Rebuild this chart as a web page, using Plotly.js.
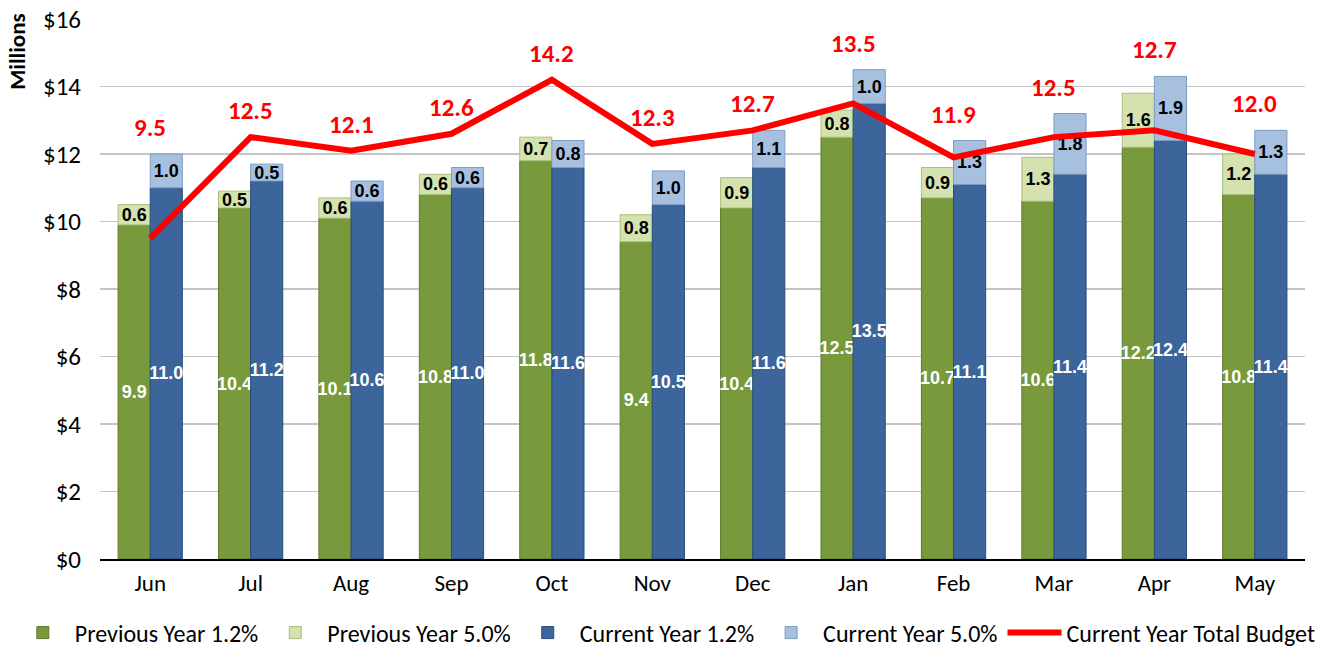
<!DOCTYPE html>
<html>
<head>
<meta charset="utf-8">
<script src="https://cdn.plot.ly/plotly-3.0.1.min.js"></script>
<style>html,body{margin:0;padding:0;background:#fff;}#chart{width:1343px;height:649px;}</style>
</head>
<body>
<div id="chart"></div>
<script>
const months = ["Jun","Jul","Aug","Sep","Oct","Nov","Dec","Jan","Feb","Mar","Apr","May"];
const prevBase = [9.9,10.4,10.1,10.8,11.8,9.4,10.4,12.5,10.7,10.6,12.2,10.8];
const prevExtra = [0.6,0.5,0.6,0.6,0.7,0.8,0.9,0.8,0.9,1.3,1.6,1.2];
const currBase = [11.0,11.2,10.6,11.0,11.6,10.5,11.6,13.5,11.1,11.4,12.4,11.4];
const currExtra = [1.0,0.5,0.6,0.6,0.8,1.0,1.1,1.0,1.3,1.8,1.9,1.3];
const budget = [9.5,12.5,12.1,12.6,14.2,12.3,12.7,13.5,11.9,12.5,12.7,12.0];

const FONT = 'Carlito, Calibri, "Liberation Sans", Arial, sans-serif';
const NARROW = '"Liberation Sans Narrow", "Arial Narrow", "Liberation Sans", Arial, sans-serif';

function barTrace(name, y, base, group, color, lineColor, textColor) {
  const t = {
    type: 'bar', name: name, x: months, y: y, offsetgroup: group,
    marker: {color: color, line: {color: lineColor, width: 1}},
    text: y.map(v => v.toFixed(1)), textposition: 'inside', insidetextanchor: 'middle',
    textangle: 0, constraintext: 'none',
    textfont: {family: NARROW, size: 18, color: textColor, weight: 'bold'},
    hoverinfo: 'y+name'
  };
  if (base) t.base = base;
  return t;
}

const traces = [
  barTrace('Previous Year 1.2%', prevBase, null, 'prev', '#789A3C', '#5E7A2C', '#ffffff'),
  barTrace('Previous Year 5.0%', prevExtra, prevBase, 'prev', '#D3E2AF', '#A9BF7A', '#000000'),
  barTrace('Current Year 1.2%', currBase, null, 'curr', '#3B659B', '#2A4D7A', '#ffffff'),
  barTrace('Current Year 5.0%', currExtra, currBase, 'curr', '#A7C0E0', '#7D9CC4', '#000000'),
  {
    type: 'scatter', mode: 'lines', name: 'Current Year Total Budget', x: months, y: budget,
    line: {color: '#FF0000', width: 6}
  }
];

const annotations = months.map((m, i) => ({
  x: m, y: Math.max(budget[i], prevBase[i] + prevExtra[i], currBase[i] + currExtra[i]),
  xref: 'x', yref: 'y', text: budget[i].toFixed(1), showarrow: false,
  yanchor: 'bottom', yshift: 9,
  font: {family: FONT, size: 25, color: '#FF0000', weight: 'bold'}
}));
annotations.push({
  xref: 'paper', yref: 'paper', x: -0.0685, y: 1.015, xanchor: 'center', yanchor: 'top',
  text: 'Millions', textangle: -90, showarrow: false,
  font: {family: FONT, size: 23, color: '#000', weight: 'bold'}
});

const layout = {
  width: 1343, height: 649,
  margin: {l: 100, r: 38, t: 19, b: 90, autoexpand: false},
  paper_bgcolor: '#fff', plot_bgcolor: '#fff',
  barmode: 'group', bargap: 0.36, bargroupgap: 0,
  font: {family: FONT, size: 23, color: '#000'},
  xaxis: {
    type: 'category', showgrid: false, showline: true, linecolor: '#000', linewidth: 1.5,
    ticks: '', ticklabelstandoff: 3, tickfont: {family: FONT, size: 23, color: '#000'}, range: [-0.5, 11.5]
  },
  yaxis: {
    range: [0, 16], dtick: 2, tickprefix: '$', showgrid: true, gridcolor: '#C4C4C4', gridwidth: 1.5,
    zeroline: false, showline: false, ticks: '', ticklabelstandoff: 18,
    tickfont: {family: FONT, size: 25, color: '#000'}
  },
  showlegend: true,
  legend: {
    orientation: 'h', x: -0.074, xanchor: 'left', y: -0.137, yanchor: 'middle',
    font: {family: FONT, size: 24, color: '#000'}, traceorder: 'normal', itemwidth: 54
  },
  annotations: annotations
};

Plotly.newPlot('chart', traces, layout, {displayModeBar: false, staticPlot: true});
</script>
</body>
</html>
